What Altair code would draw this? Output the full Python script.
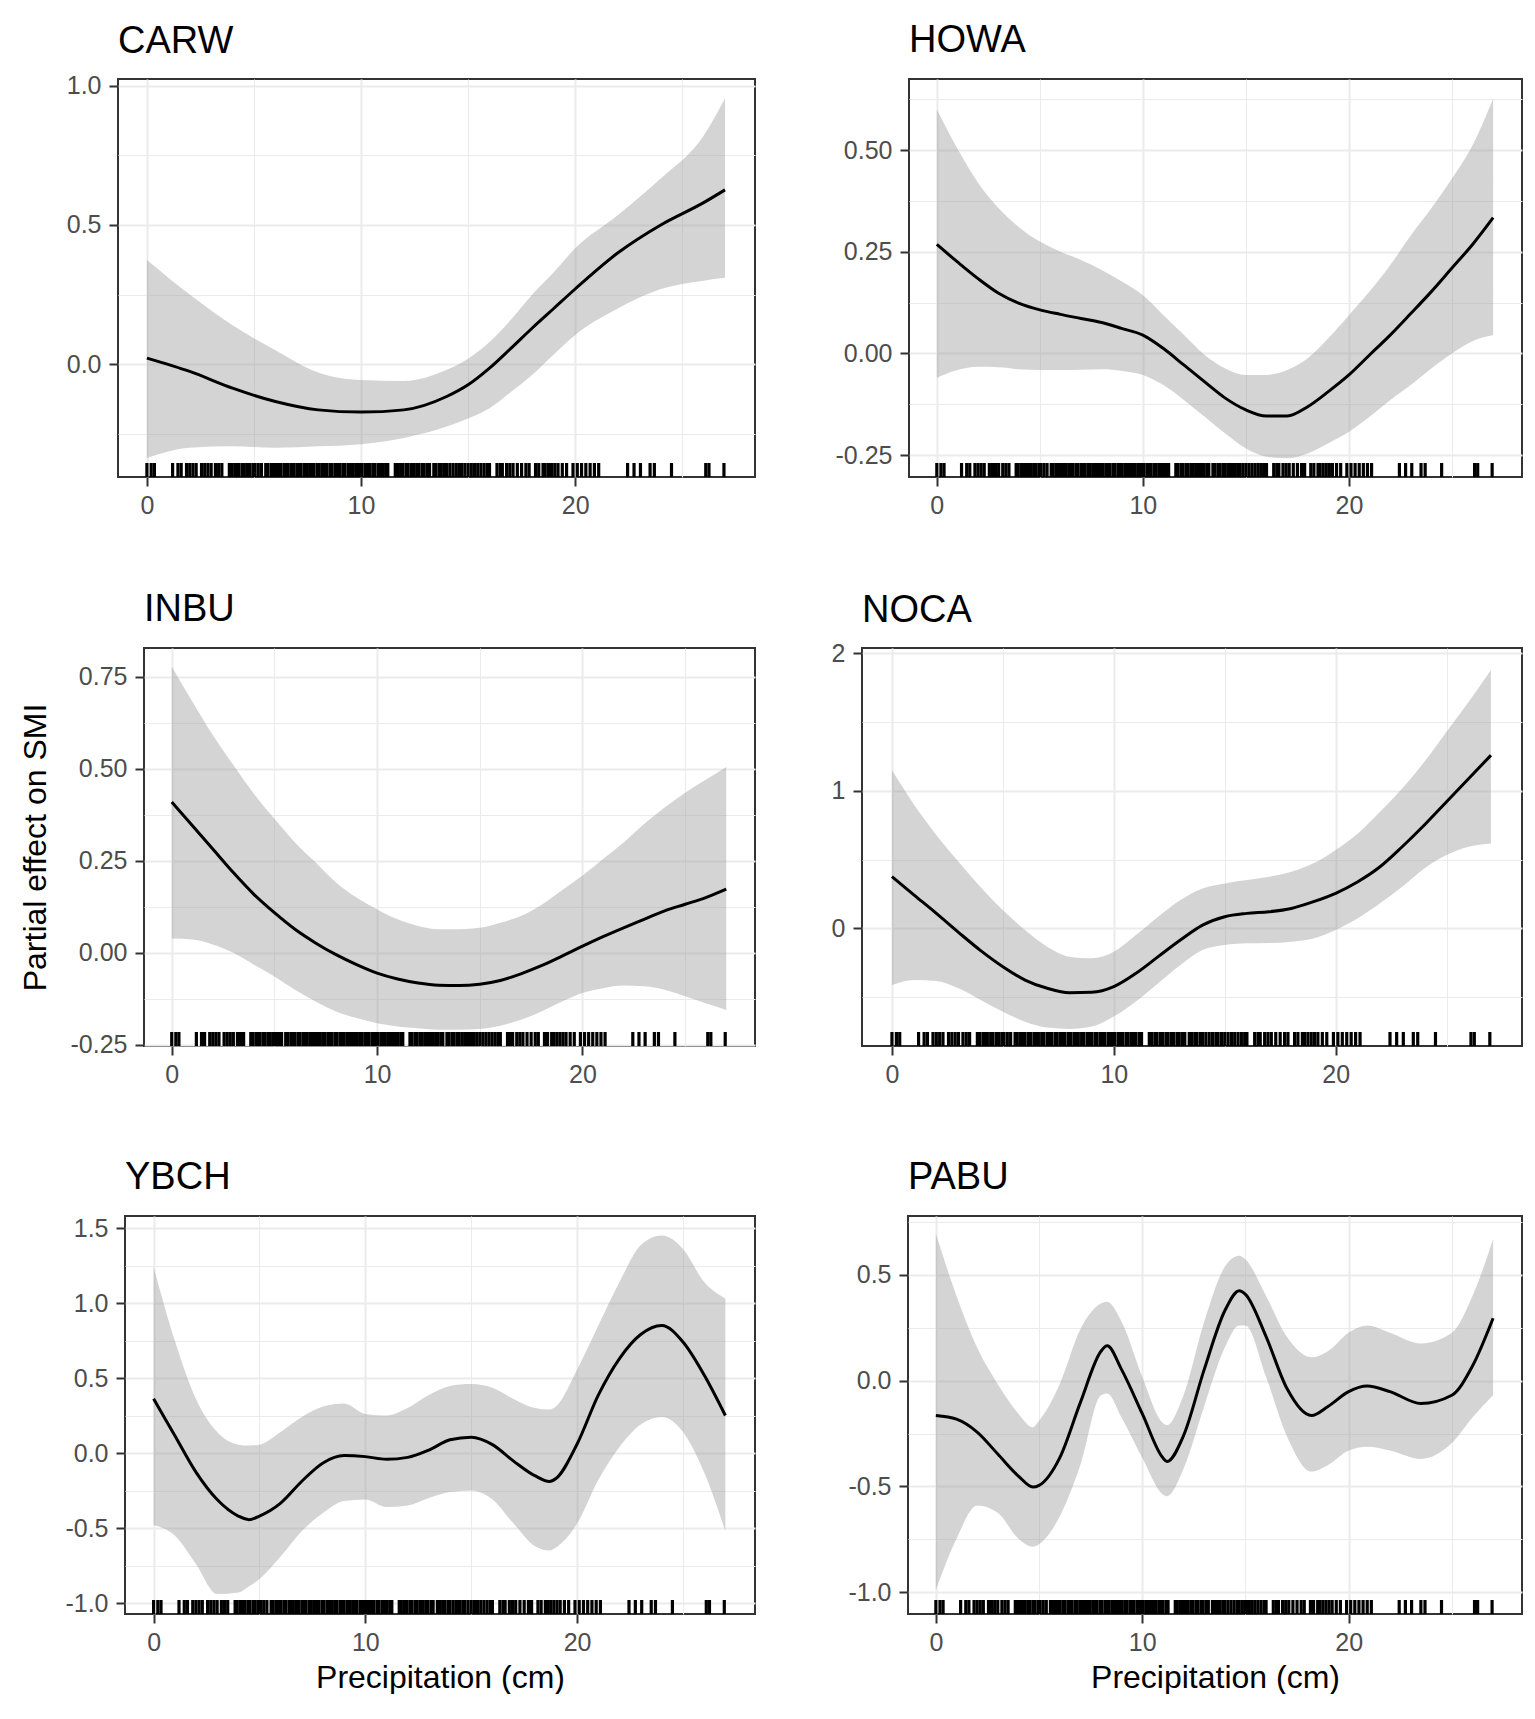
import altair as alt
import pandas as pd

FONT = "Liberation Sans"

# ---------------- data ----------------
CARW_x = [0, 2, 4, 6, 8, 10, 12, 14, 15, 16, 17, 18, 19, 20, 22, 24, 26, 27]
CARW_fit = [0.022, -0.026, -0.086, -0.134, -0.164, -0.172, -0.164, -0.116, -0.074, -0.014,
            0.057, 0.13, 0.20, 0.27, 0.40, 0.50, 0.58, 0.626]
CARW_hi = [0.374, 0.25, 0.14, 0.05, -0.03, -0.057, -0.06, -0.02, 0.02, 0.08,
           0.16, 0.25, 0.33, 0.416, 0.536, 0.667, 0.82, 0.955]
CARW_lo = [-0.337, -0.30, -0.295, -0.30, -0.295, -0.287, -0.265, -0.224, -0.195, -0.158,
           -0.10, -0.038, 0.035, 0.105, 0.20, 0.27, 0.30, 0.31]

HOWA_x = list(range(28))
HOWA_fit = [0.268, 0.225, 0.184, 0.148, 0.123, 0.107, 0.096, 0.086, 0.076, 0.061, 0.045, 0.012,
            -0.029, -0.07, -0.11, -0.139, -0.154, -0.154, -0.131, -0.094, -0.053, -0.004,
            0.045, 0.098, 0.152, 0.21, 0.268, 0.334]
HOWA_hi = [0.60, 0.504, 0.42, 0.357, 0.31, 0.275, 0.25, 0.23, 0.205, 0.176, 0.143, 0.094,
           0.045, -0.004, -0.037, -0.053, -0.053, -0.041, -0.012, 0.037, 0.094, 0.152,
           0.217, 0.29, 0.357, 0.43, 0.512, 0.627]
HOWA_lo = [-0.06, -0.041, -0.033, -0.034, -0.039, -0.041, -0.041, -0.04, -0.039, -0.043, -0.053,
           -0.078, -0.115, -0.156, -0.197, -0.234, -0.254, -0.258, -0.246, -0.221, -0.193,
           -0.156, -0.115, -0.078, -0.037, 0.0, 0.03, 0.045]

INBU_x = list(range(28))
INBU_fit = [0.41, 0.346, 0.282, 0.218, 0.159, 0.109, 0.064, 0.027, -0.005, -0.032, -0.055, -0.071,
            -0.082, -0.088, -0.089, -0.085, -0.075, -0.057, -0.035, -0.009, 0.018, 0.044,
            0.068, 0.091, 0.114, 0.132, 0.15, 0.173]
INBU_hi = [0.778, 0.683, 0.592, 0.51, 0.432, 0.364, 0.30, 0.246, 0.191, 0.15, 0.118, 0.091,
           0.073, 0.064, 0.064, 0.068, 0.082, 0.10, 0.13, 0.17, 0.21, 0.255, 0.30, 0.35,
           0.395, 0.435, 0.47, 0.505]
INBU_lo = [0.039, 0.036, 0.023, 0.0, -0.032, -0.064, -0.1, -0.132, -0.159, -0.177, -0.191, -0.2,
           -0.205, -0.209, -0.209, -0.207, -0.198, -0.182, -0.159, -0.132, -0.109, -0.096,
           -0.089, -0.091, -0.1, -0.118, -0.137, -0.155]

NOCA_x = list(range(28))
NOCA_fit = [0.376, 0.242, 0.109, -0.029, -0.162, -0.279, -0.376, -0.436, -0.468, -0.465, -0.424,
            -0.327, -0.206, -0.085, 0.024, 0.085, 0.109, 0.121, 0.145, 0.194, 0.255, 0.339,
            0.448, 0.594, 0.752, 0.921, 1.09, 1.26]
NOCA_hi = [1.15, 0.90, 0.68, 0.485, 0.30, 0.133, -0.012, -0.133, -0.206, -0.218, -0.17, -0.048,
           0.085, 0.206, 0.29, 0.327, 0.352, 0.376, 0.412, 0.473, 0.57, 0.69, 0.848, 1.018,
           1.212, 1.43, 1.648, 1.88]
NOCA_lo = [-0.412, -0.376, -0.383, -0.436, -0.521, -0.606, -0.679, -0.722, -0.732, -0.715,
           -0.642, -0.533, -0.40, -0.267, -0.158, -0.121, -0.109, -0.107, -0.097, -0.073,
           -0.012, 0.073, 0.182, 0.303, 0.436, 0.533, 0.594, 0.618]

YBCH_x = [0, 1, 2, 3, 4, 4.5, 5, 6, 7, 8, 9, 10, 11, 12, 13, 14, 15, 16, 17, 18, 18.7, 19,
          20, 21, 22, 23, 24, 25, 26, 27]
YBCH_fit = [0.361, 0.117, -0.127, -0.31, -0.42, -0.444, -0.42, -0.334, -0.188, -0.066, -0.017,
            -0.024, -0.042, -0.029, 0.02, 0.088, 0.105, 0.056, -0.054, -0.151, -0.19, -0.17,
            0.06, 0.386, 0.63, 0.79, 0.85, 0.74, 0.52, 0.25]
YBCH_hi = [1.24, 0.75, 0.36, 0.14, 0.056, 0.05, 0.056, 0.14, 0.24, 0.31, 0.33, 0.26, 0.25, 0.30,
           0.386, 0.447, 0.46, 0.435, 0.36, 0.30, 0.29, 0.31, 0.556, 0.85, 1.14, 1.385, 1.45,
           1.36, 1.14, 1.03]
YBCH_lo = [-0.48, -0.55, -0.74, -0.94, -0.93, -0.89, -0.84, -0.69, -0.52, -0.40, -0.32, -0.31,
           -0.36, -0.35, -0.30, -0.26, -0.25, -0.31, -0.47, -0.62, -0.65, -0.63, -0.47, -0.18,
           0.04, 0.19, 0.24, 0.14, -0.13, -0.52]

PABU_x = [0, 1, 2, 3, 4, 4.7, 5, 6, 7, 8, 8.3, 9, 10, 11, 11.2, 12, 13, 14, 14.7, 15, 16, 17,
          18.2, 19, 20, 20.9, 22, 23.5, 25, 26, 27]
PABU_fit = [-0.165, -0.182, -0.243, -0.347, -0.451, -0.503, -0.495, -0.365, -0.104, 0.139, 0.165,
            0.052, -0.156, -0.365, -0.382, -0.26, 0.052, 0.33, 0.425, 0.408, 0.208, -0.035,
            -0.165, -0.122, -0.052, -0.026, -0.052, -0.108, -0.069, 0.069, 0.295]
PABU_hi = [0.694, 0.40, 0.156, -0.017, -0.156, -0.22, -0.19, -0.017, 0.243, 0.365, 0.373, 0.278,
           0.017, -0.20, -0.21, -0.069, 0.278, 0.538, 0.59, 0.573, 0.40, 0.208, 0.11, 0.139,
           0.226, 0.26, 0.226, 0.175, 0.226, 0.40, 0.668]
PABU_lo = [-0.99, -0.747, -0.59, -0.625, -0.747, -0.785, -0.773, -0.642, -0.399, -0.069, -0.061,
           -0.174, -0.365, -0.538, -0.547, -0.417, -0.122, 0.156, 0.26, 0.26, 0.017, -0.26,
           -0.43, -0.399, -0.33, -0.312, -0.33, -0.37, -0.295, -0.174, -0.069]

# precipitation values shown in the rug
RUG = [0.0, 0.2, 0.35, 1.2, 1.45, 1.6, 1.85, 2.0, 2.15, 2.3, 2.55, 2.7, 2.85, 3.0, 3.2, 3.35,
       3.5, 3.85, 3.95, 4.1, 4.2, 4.3, 4.45, 4.55, 4.7, 4.8, 4.95, 5.05, 5.2, 5.35, 5.55, 5.65,
       5.8, 5.9, 6.0, 6.15, 6.25, 6.4, 6.5, 6.6, 6.75, 6.85, 7.0, 7.1, 7.2, 7.35, 7.45, 7.6,
       7.7, 7.8, 7.95, 8.05, 8.2, 8.3, 8.4, 8.55, 8.65, 8.8, 8.9, 9.0, 9.15, 9.25, 9.4, 9.5,
       9.6, 9.75, 9.85, 9.95, 10.05, 10.2, 10.3, 10.4, 10.55, 10.65, 10.8, 10.9, 11.0, 11.15,
       11.25, 11.6, 11.7, 11.85, 11.95, 12.1, 12.2, 12.35, 12.45, 12.6, 12.7, 12.85, 12.95,
       13.1, 13.2, 13.4, 13.5, 13.65, 13.75, 13.9, 14.0, 14.15, 14.3, 14.45, 14.6, 14.7,
       14.85, 15.0, 15.15, 15.3, 15.45, 15.6, 15.75, 15.9, 16.0, 16.35, 16.5, 16.6, 16.8,
       16.95, 17.1, 17.3, 17.5, 17.7, 17.85, 18.15, 18.3, 18.5, 18.6, 18.75, 18.9, 19.05,
       19.2, 19.4, 19.6, 19.9, 20.1, 20.3, 20.5, 20.7, 20.9, 21.1, 22.45, 22.75, 23.05, 23.5,
       23.7, 24.5, 26.1, 26.25, 26.95]

X_DOMAIN = [-1.35, 28.4]
X_MAJOR = [0, 10, 20]
X_MINOR = [5, 15, 25]

# x, fit, lo, hi, y-domain, major ticks, minor grid, decimals
PANELS = {
    "CARW": (CARW_x, CARW_fit, CARW_lo, CARW_hi, [-0.405, 1.024], [0, 0.5, 1.0], [-0.25, 0.25, 0.75], 1),
    "HOWA": (HOWA_x, HOWA_fit, HOWA_lo, HOWA_hi, [-0.304, 0.675], [-0.25, 0, 0.25, 0.5],
             [-0.125, 0.125, 0.375, 0.625], 2),
    "INBU": (INBU_x, INBU_fit, INBU_lo, INBU_hi, [-0.253, 0.828], [-0.25, 0, 0.25, 0.5, 0.75],
             [-0.125, 0.125, 0.375, 0.625], 2),
    "NOCA": (NOCA_x, NOCA_fit, NOCA_lo, NOCA_hi, [-0.856, 2.04], [0, 1, 2], [-0.5, 0.5, 1.5], 0),
    "YBCH": (YBCH_x, YBCH_fit, YBCH_lo, YBCH_hi, [-1.073, 1.58], [-1, -0.5, 0, 0.5, 1, 1.5],
             [-0.75, -0.25, 0.25, 0.75, 1.25], 1),
    "PABU": (PABU_x, PABU_fit, PABU_lo, PABU_hi, [-1.103, 0.778], [-1, -0.5, 0, 0.5],
             [-0.75, -0.25, 0.25, 0.75], 1),
}

H = 398
RUG_LEN = 14
TICK_FS = 25


def panel(name, width, xtitle=None, ytitle=None):
    xs, fit, lo, hi, ydom, ymaj, ymin, dec = PANELS[name]
    df = pd.DataFrame({"x": xs, "fit": fit, "lo": lo, "hi": hi})
    rug = pd.DataFrame({"p": RUG})
    xscale = alt.Scale(domain=X_DOMAIN, nice=False, zero=False)
    yscale = alt.Scale(domain=ydom, nice=False, zero=False)
    lab = f"(datum.value < 0 ? '-' : '') + format(abs(datum.value), '.{dec}f')"
    # top tick label overhang pushes the title up; compensate so every title sits the same
    top_gap = (ydom[1] - max(ymaj)) / (ydom[1] - ydom[0]) * H
    overhang = max(0.0, TICK_FS / 2 - top_gap)

    xaxis = alt.Axis(values=X_MAJOR, orient="bottom", grid=True, gridColor="#ebebeb", gridWidth=2,
                     domain=False, tickColor="#333333", tickWidth=2, tickSize=9,
                     labelFont=FONT, labelFontSize=TICK_FS, labelColor="#4d4d4d", labelPadding=7,
                     labelFlush=False, format="d", title=xtitle, titleFont=FONT,
                     titleFontSize=32, titleFontWeight="normal", titleColor="black",
                     titlePadding=7)
    yaxis = alt.Axis(values=ymaj, orient="left", grid=True, gridColor="#ebebeb", gridWidth=2,
                     domain=False, tickColor="#333333", tickWidth=2, tickSize=9,
                     labelFont=FONT, labelFontSize=TICK_FS, labelColor="#4d4d4d", labelPadding=8,
                     labelFlush=False, labelExpr=lab, title=ytitle, titleFont=FONT,
                     titleFontSize=32, titleFontWeight="normal", titleColor="black",
                     titlePadding=18)
    xminor = alt.Axis(values=X_MINOR, orient="bottom", grid=True, gridColor="#ebebeb",
                      gridWidth=1, domain=False, ticks=False, labels=False, title=None)
    yminor = alt.Axis(values=ymin, orient="left", grid=True, gridColor="#ebebeb",
                      gridWidth=1, domain=False, ticks=False, labels=False, title=None)

    band = alt.Chart(df).mark_area(color="#999999", opacity=0.42, interpolate="monotone").encode(
        x=alt.X("x:Q", scale=xscale, axis=xaxis),
        y=alt.Y("lo:Q", scale=yscale, axis=yaxis),
        y2="hi:Q",
    )
    line = alt.Chart(df).mark_line(color="black", strokeWidth=3, interpolate="monotone").encode(
        x=alt.X("x:Q", scale=xscale, axis=xminor),
        y=alt.Y("fit:Q", scale=yscale, axis=yminor),
    )
    ticks = alt.Chart(rug).mark_rule(color="black", strokeWidth=3.2).encode(
        x=alt.X("p:Q", scale=xscale, axis=None),
        y=alt.value(H - RUG_LEN),
        y2=alt.value(H),
    )
    return alt.layer(band, line, ticks).resolve_axis(x="independent", y="independent").properties(
        width=width,
        height=H,
        title=alt.TitleParams(text=name, anchor="start", frame="group", font=FONT, fontSize=38,
                              fontWeight="normal", color="black", offset=-11,
                              baseline="alphabetic", dy=overhang),
        view=alt.ViewBackground(fill="white", stroke="#333333", strokeWidth=2),
    )


def spacer(w, h):
    return alt.Chart(pd.DataFrame({"s": [0]})).mark_point(opacity=0, size=1).encode(
        x=alt.value(0), y=alt.value(0)
    ).properties(width=w, height=h,
                 view=alt.ViewBackground(stroke="transparent", strokeWidth=0))


# layout (pixels relative to chart origin): left gap, left panel, middle gap, right panel
ROW1 = (109, 637, 154, 613)
ROW2 = (135, 611, 107, 660)
ROW3 = (116, 630, 153, 614)
TOP = 70
GAP1 = 171
GAP2 = 170


def row(spec, left, right, left_kw=None, right_kw=None):
    return alt.hconcat(
        spacer(spec[0], H),
        panel(left, spec[1], **(left_kw or {})),
        spacer(spec[2], H),
        panel(right, spec[3], **(right_kw or {})),
        spacing=0, bounds="flush",
    )


# nested rows take no height in the flush layout, so the vertical spacers carry
# the row height plus the gap below it
chart = alt.vconcat(
    spacer(1, TOP),
    row(ROW1, "CARW", "HOWA"),
    spacer(1, H + GAP1),
    row(ROW2, "INBU", "NOCA", left_kw={"ytitle": "Partial effect on SMI"}),
    spacer(1, H + GAP2),
    row(ROW3, "YBCH", "PABU", left_kw={"xtitle": "Precipitation (cm)"},
        right_kw={"xtitle": "Precipitation (cm)"}),
    spacing=0, bounds="flush",
).properties(padding=0).configure_view(stroke="transparent", strokeWidth=0).configure(
    background="white")

chart.save("out.html", embed_options={"renderer": "svg", "actions": False})
